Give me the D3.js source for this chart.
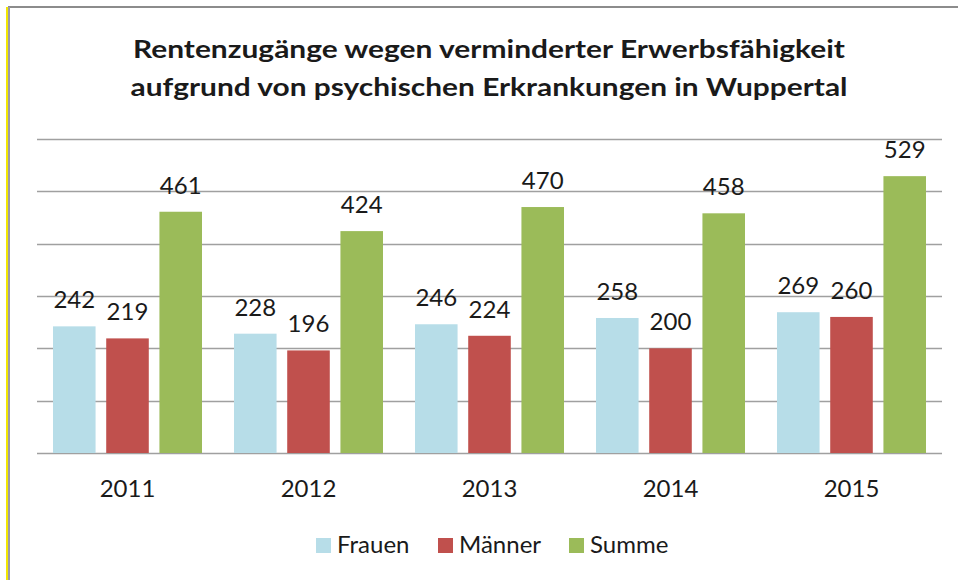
<!DOCTYPE html>
<html>
<head>
<meta charset="utf-8">
<script src="https://cdn.jsdelivr.net/npm/d3@7"></script>
<style>
  body { margin: 0; background: #fff; }
  svg text { font-family: Lato, "Open Sans", sans-serif; fill: #1a1a1a; }
</style>
</head>
<body>
<div id="chart"></div>
<script>
const width = 958;
const height = 580;

const years = ["2011", "2012", "2013", "2014", "2015"];
const seriesNames = ["Frauen", "Männer", "Summe"];
const frauen = [242, 228, 246, 258, 269];
const maenner = [219, 196, 224, 200, 260];
const summe = [461, 424, 470, 458, 529];
const gridTicks = [0, 100, 200, 300, 400, 500, 600];
const titleLines = [
  "Rentenzugänge wegen verminderter Erwerbsfähigkeit",
  "aufgrund von psychischen Erkrankungen in Wuppertal"
];
const colors = ["#b7dde8", "#c0504d", "#9bbb59"];

const rows = years.map((y, i) => ({ year: y, values: [frauen[i], maenner[i], summe[i]] }));

const svg = d3.select("#chart").append("svg")
  .attr("width", width)
  .attr("height", height);

// frame lines (top + left)
svg.append("line").attr("x1", 8).attr("x2", width).attr("y1", 7).attr("y2", 7)
  .attr("stroke", "#8c8c8c").attr("stroke-width", 2);
svg.append("line").attr("x1", 7).attr("x2", 7).attr("y1", 7).attr("y2", height)
  .attr("stroke", "#f2e600").attr("stroke-width", 2);
svg.append("line").attr("x1", 9).attr("x2", 9).attr("y1", 7).attr("y2", height)
  .attr("stroke", "#9a9aa8").attr("stroke-width", 2);

// title
const titleWidths = [712, 717];
svg.selectAll(".title")
  .data(titleLines)
  .enter().append("text")
  .attr("class", "title")
  .attr("x", 489)
  .attr("y", (d, i) => 58 + i * 38)
  .attr("text-anchor", "middle")
  .style("font-size", "25px")
  .style("font-weight", "bold")
  .attr("textLength", (d, i) => titleWidths[i])
  .attr("lengthAdjust", "spacingAndGlyphs")
  .text(d => d);

const x0 = d3.scaleBand().domain(years).range([37, 942]);
const x1 = d3.scaleBand().domain(seriesNames).range([16, x0.bandwidth() - 16]).paddingInner(0.2);
const y = d3.scaleLinear().domain([0, 600]).range([453, 139]);

// gridlines
svg.append("g")
  .selectAll("line")
  .data(gridTicks)
  .enter().append("line")
  .attr("x1", 37).attr("x2", 942)
  .attr("y1", d => Math.round(y(d)) + 0.5)
  .attr("y2", d => Math.round(y(d)) + 0.5)
  .attr("stroke", "#a0a0a0")
  .attr("stroke-width", 1.3);

const groups = svg.selectAll(".grp")
  .data(rows)
  .enter().append("g")
  .attr("class", "grp")
  .attr("transform", d => `translate(${x0(d.year)},0)`);

groups.selectAll("rect")
  .data(d => d.values.map((v, i) => ({ name: seriesNames[i], value: v, i })))
  .enter().append("rect")
  .attr("x", d => x1(d.name))
  .attr("width", x1.bandwidth())
  .attr("y", d => y(d.value))
  .attr("height", d => y(0) - y(d.value))
  .attr("fill", d => colors[d.i]);

groups.selectAll(".val")
  .data(d => d.values.map((v, i) => ({ name: seriesNames[i], value: v })))
  .enter().append("text")
  .attr("class", "val")
  .attr("x", d => x1(d.name) + x1.bandwidth() / 2)
  .attr("y", d => y(d.value) - 18)
  .attr("text-anchor", "middle")
  .style("font-size", "24px")
  .text(d => d.value);

// year labels
svg.selectAll(".yr")
  .data(years)
  .enter().append("text")
  .attr("class", "yr")
  .attr("x", d => x0(d) + x0.bandwidth() / 2)
  .attr("y", 497)
  .attr("text-anchor", "middle")
  .style("font-size", "24px")
  .text(d => d);

// legend
const legendX = [316, 438, 569];
const legend = svg.selectAll(".legend")
  .data(seriesNames)
  .enter().append("g")
  .attr("class", "legend")
  .attr("transform", (d, i) => `translate(${legendX[i]},538)`);

legend.append("rect")
  .attr("width", 15)
  .attr("height", 15)
  .attr("fill", (d, i) => colors[i]);

legend.append("text")
  .attr("x", 21)
  .attr("y", 15)
  .style("font-size", "24px")
  .text(d => d);
</script>
</body>
</html>
